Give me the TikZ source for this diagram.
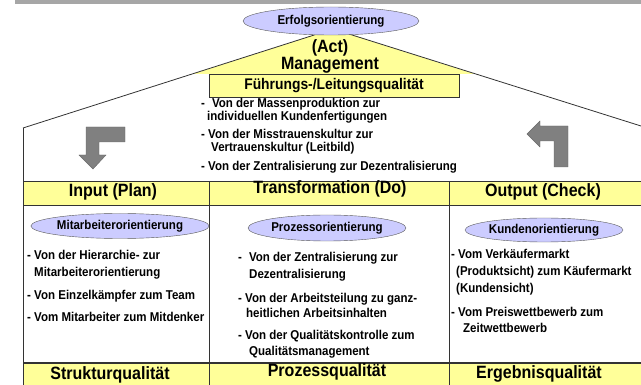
\documentclass[tikz,border=0pt]{standalone}
\usepackage{fontspec}
\setmainfont{Liberation Sans}[FakeStretch=0.9]
\usetikzlibrary{shapes.geometric}
\definecolor{hellgelb}{HTML}{FFFF99}
\definecolor{lila}{HTML}{CCCCFF}
\definecolor{pfeilgrau}{HTML}{808080}

\begin{document}
\begin{tikzpicture}[x=1pt,y=-1pt,
  oval/.style={ellipse,draw=black!65,fill=lila,inner sep=0pt,minimum width=158pt,minimum height=25pt,font=\fontsize{12.8}{14}\selectfont\bfseries},
  kopf/.style={font=\fontsize{17.8}{19}\selectfont\bfseries},
  punkt/.style={anchor=west,align=left,inner sep=0pt,font=\fontsize{12.8}{17}\selectfont\bfseries},
  wende/.style={draw=black!60,fill=pfeilgrau},
  linie/.style={draw=black!80,line width=0.8pt}]
  \useasboundingbox (0,0) rectangle (641,385);
  \fill[black!35] (15,0) rectangle (641,4.5);

  % Dach
  \coordinate (apex) at (333,29);
  \coordinate (traufeL) at (23,128);
  \coordinate (traufeR) at (641,126);
  \fill[hellgelb] (apex) -- (193,74) -- (475,74) -- cycle;
  \draw[linie] (traufeL) -- (apex) -- (traufeR);

  % Tabelle
  \fill[hellgelb] (23,181) rectangle (641,205);
  \fill[hellgelb] (23,363) rectangle (641,385);
  \draw[linie] (traufeL) -- (23,385);
  \draw[linie] (23,181) -- (641,181) (23,205) -- (641,205);
  \draw[linie,line width=1.2pt] (23,363) -- (641,363);
  \draw[linie] (209,181) -- (209,385) (449,181) -- (449,385);

  % Pfeile
  \draw[wende] (86,127) -- (125,127) -- (125,142) -- (99,142) -- (99,155) -- (106,155)
    -- (93,169) -- (79,155) -- (86,155) -- cycle;
  \draw[wende] (568,126) -- (568,167) -- (554,167) -- (554,141) -- (540,141) -- (540,147)
    -- (527,134) -- (540,121) -- (540,126) -- cycle;

  \node[oval,minimum width=176pt,minimum height=28pt] (erf) at (331,21) {Erfolgsorientierung};
  \node[kopf,align=center,inner sep=0pt,font=\fontsize{17.8}{15.5}\selectfont\bfseries] (mgmt) at (330,56) {(Act)\\Management};
  \node[draw=black!80,fill=hellgelb,minimum width=250pt,minimum height=23pt,inner sep=0pt,
    font=\fontsize{15.4}{17}\selectfont\bfseries] (fuehr) at (334,85.5) {Führungs-/Leitungsqualität};

  \begin{scope}[punkt/.append style={font=\fontsize{12.8}{13}\selectfont\bfseries}]
    \node[punkt] (a1) at (201,111) {-\hspace{7pt}Von der Massenproduktion zur\\\hspace*{6pt}individuellen Kundenfertigungen};
    \node[punkt] (a2) at (201,142) {- Von der Misstrauenskultur zur\\\hspace*{10pt}Vertrauenskultur (Leitbild)};
    \node[punkt] (a3) at (201,167) {- Von der Zentralisierung zur Dezentralisierung};
  \end{scope}

  % Kopfzeile
  \node[kopf] (inp)   at (113,192) {Input (Plan)};
  \node[kopf] (trans) at (330,189) {Transformation (Do)};
  \node[kopf] (outp)  at (543,192) {Output (Check)};

  \node[oval] (mit) at (120,226) {Mitarbeiterorientierung};
  \node[oval,minimum height=26pt] (proz) at (327,228) {\raisebox{-4pt}{Prozessorientierung}};
  \node[oval,minimum height=24pt] (kund) at (544,230) {Kundenorientierung};

  \node[punkt] (m1) at (27,264.5) {- Von der Hierarchie- zur\\\hspace*{7pt}Mitarbeiterorientierung};
  \node[punkt] (m2) at (27,296) {- Von Einzelkämpfer zum Team};
  \node[punkt] (m3) at (27,317) {- Vom Mitarbeiter zum Mitdenker};

  \node[punkt] (p1) at (238,266.5) {-\hspace{7pt}Von der Zentralisierung zur\\\hspace*{11pt}Dezentralisierung};
  \node[punkt,font=\fontsize{12.8}{15}\selectfont\bfseries] (p2) at (238,305.5) {- Von der Arbeitsteilung zu ganz-\\\hspace*{8pt}heitlichen Arbeitsinhalten};
  \node[punkt,font=\fontsize{12.8}{16}\selectfont\bfseries] (p3) at (238,344) {- Von der Qualitätskontrolle zum\\\hspace*{11pt}Qualitätsmanagement};

  \node[punkt] (k1) at (451,272) {- Vom Verkäufermarkt\\\hspace*{5pt}(Produktsicht) zum Käufermarkt\\\hspace*{5pt}(Kundensicht)};
  \node[punkt,font=\fontsize{12.8}{16}\selectfont\bfseries] (k2) at (451,320) {- Vom Preiswettbewerb zum\\\hspace*{12pt}Zeitwettbewerb};

  % Fusszeile
  \node[kopf] (struk) at (110,375) {Strukturqualität};
  \node[kopf] (prq)   at (327,372) {Prozessqualität};
  \node[kopf] (erg)   at (539,374) {Ergebnisqualität};
\end{tikzpicture}
\end{document}
